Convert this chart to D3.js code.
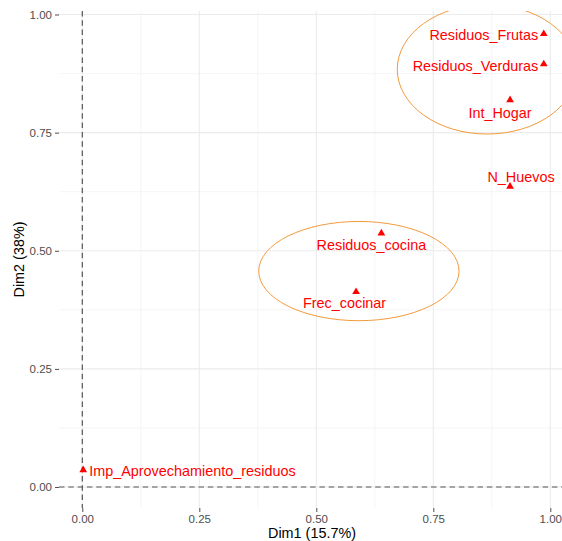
<!DOCTYPE html>
<html>
<head>
<meta charset="utf-8">
<script src="https://cdn.jsdelivr.net/npm/d3@7"></script>
<style>
  body { margin: 0; background: #fff; }
  svg text { font-family: "Liberation Sans", Arial, sans-serif; }
</style>
</head>
<body>
<div id="chart"></div>
<script>
// variables (coordinates on Dim1 / Dim2)
var varNames = ["Residuos_Frutas", "Residuos_Verduras", "Int_Hogar", "N_Huevos",
                "Residuos_cocina", "Frec_cocinar", "Imp_Aprovechamiento_residuos"];
var dim1 = [0.986, 0.986, 0.914, 0.914, 0.639, 0.585, 0.002];
var dim2 = [0.959, 0.895, 0.819, 0.636, 0.537, 0.413, 0.036];

// cluster ellipses: centre and semi-axes in data units
var ellipseCx = [0.865, 0.591];
var ellipseCy = [0.884, 0.457];
var ellipseRx = [0.192, 0.214];
var ellipseRy = [0.137, 0.105];

var tickValues = [0, 0.25, 0.5, 0.75, 1];
var minorValues = [0.125, 0.375, 0.625, 0.875];
var xTitle = "Dim1 (15.7%)";
var yTitle = "Dim2 (38%)";

var W = 562, H = 541;
var panel = { left: 59, right: 565, top: 11, bottom: 508 };

// label placement (repel-like nudges, in px)
var labelAnchor = ["end", "end", "middle", "middle", "middle", "middle", "start"];
var labelDx = [-5.5, -5.5, -10, 11, -10, -11.5, 6];
var labelDy = [1, 2, 12.5, -9.5, 12, 11, 0.5];

var x = d3.scaleLinear().domain([-0.0498, 1.0314]).range([panel.left, panel.right]);
var y = d3.scaleLinear().domain([-0.0444, 1.0074]).range([panel.bottom, panel.top]);

var svg = d3.select("#chart").append("svg")
    .attr("width", W)
    .attr("height", H);

svg.append("clipPath").attr("id", "clip")
  .append("rect")
    .attr("x", panel.left).attr("y", panel.top)
    .attr("width", panel.right - panel.left)
    .attr("height", panel.bottom - panel.top);

var grid = svg.append("g").attr("clip-path", "url(#clip)");

// minor grid
grid.selectAll(".vminor").data(minorValues).enter().append("line")
    .attr("x1", function(d){ return x(d); }).attr("x2", function(d){ return x(d); })
    .attr("y1", panel.top).attr("y2", panel.bottom)
    .attr("stroke", "#f0f0f0").attr("stroke-width", 0.7);
grid.selectAll(".hminor").data(minorValues).enter().append("line")
    .attr("y1", function(d){ return y(d); }).attr("y2", function(d){ return y(d); })
    .attr("x1", panel.left).attr("x2", panel.right)
    .attr("stroke", "#f0f0f0").attr("stroke-width", 0.7);
// major grid
grid.selectAll(".vmajor").data(tickValues).enter().append("line")
    .attr("x1", function(d){ return x(d); }).attr("x2", function(d){ return x(d); })
    .attr("y1", panel.top).attr("y2", panel.bottom)
    .attr("stroke", "#ebebeb").attr("stroke-width", 1.1);
grid.selectAll(".hmajor").data(tickValues).enter().append("line")
    .attr("y1", function(d){ return y(d); }).attr("y2", function(d){ return y(d); })
    .attr("x1", panel.left).attr("x2", panel.right)
    .attr("stroke", "#ebebeb").attr("stroke-width", 1.1);

// zero reference lines
grid.append("line")
    .attr("x1", x(0)).attr("x2", x(0))
    .attr("y1", panel.top).attr("y2", panel.bottom)
    .attr("stroke", "#555").attr("stroke-width", 1.2)
    .attr("stroke-dasharray", "5.5,3.8");
grid.append("line")
    .attr("y1", y(0)).attr("y2", y(0))
    .attr("x1", panel.left).attr("x2", panel.right)
    .attr("stroke", "#555").attr("stroke-width", 1.2)
    .attr("stroke-dasharray", "5.5,3.8");

// axes (ticks + labels, no domain line)
var xAxis = svg.append("g")
    .attr("transform", "translate(0," + panel.bottom + ")")
    .call(d3.axisBottom(x).tickValues(tickValues).tickFormat(d3.format(".2f"))
        .tickSize(4).tickPadding(3));
var yAxis = svg.append("g")
    .attr("transform", "translate(" + panel.left + ",0)")
    .call(d3.axisLeft(y).tickValues(tickValues).tickFormat(d3.format(".2f"))
        .tickSize(4).tickPadding(3));
[xAxis, yAxis].forEach(function(a) {
    a.select(".domain").remove();
    a.selectAll(".tick line").attr("stroke", "#4d4d4d").attr("stroke-width", 1);
    a.selectAll(".tick text")
        .attr("fill", "#4d4d4d")
        .style("font-size", "11.5px")
        .style("font-family", "Liberation Sans, Arial, sans-serif");
});

// ellipses
var ell = d3.range(ellipseCx.length);
grid.selectAll(".ellipse").data(ell).enter().append("ellipse")
    .attr("cx", function(i){ return x(ellipseCx[i]); })
    .attr("cy", function(i){ return y(ellipseCy[i]); })
    .attr("rx", function(i){ return x(ellipseRx[i]) - x(0); })
    .attr("ry", function(i){ return y(0) - y(ellipseRy[i]); })
    .attr("fill", "none")
    .attr("stroke", "#f39a3c")
    .attr("stroke-width", 1);

// points
var idx = d3.range(varNames.length);
svg.selectAll(".pt").data(idx).enter().append("path")
    .attr("d", d3.symbol().type(d3.symbolTriangle).size(26))
    .attr("transform", function(i){ return "translate(" + x(dim1[i]) + "," + y(dim2[i]) + ")"; })
    .attr("fill", "#ff0000");

// labels
svg.selectAll(".lbl").data(idx).enter().append("text")
    .attr("x", function(i){ return x(dim1[i]) + labelDx[i]; })
    .attr("y", function(i){ return y(dim2[i]) + labelDy[i]; })
    .attr("dy", "0.35em")
    .attr("text-anchor", function(i){ return labelAnchor[i]; })
    .attr("fill", "#ff0000")
    .style("font-size", "14.4px")
    .text(function(i){ return varNames[i]; });

// axis titles
svg.append("text")
    .attr("x", (panel.left + panel.right) / 2)
    .attr("y", 537.5)
    .attr("text-anchor", "middle")
    .attr("fill", "#000")
    .style("font-size", "14.4px")
    .text(xTitle);
svg.append("text")
    .attr("transform", "translate(24," + ((panel.top + panel.bottom) / 2) + ") rotate(-90)")
    .attr("text-anchor", "middle")
    .attr("fill", "#000")
    .style("font-size", "14.4px")
    .text(yTitle);
</script>
</body>
</html>
